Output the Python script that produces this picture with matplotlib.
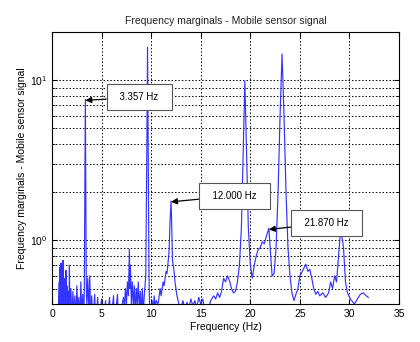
import matplotlib
matplotlib.use("Agg")
import matplotlib.pyplot as plt
from matplotlib.ticker import LogLocator, NullFormatter

plt.rcParams['font.family'] = ['Liberation Sans', 'DejaVu Sans']

# frequency axis (Hz) and marginal values
freq = [0.6, 0.7, 0.75, 0.8, 0.85, 0.9, 0.95, 1.0, 1.05, 1.1, 1.15, 1.2, 1.25, 1.3, 1.35,
        1.4, 1.45, 1.5, 1.55, 1.6, 1.7, 1.75, 1.8, 1.9, 2.0, 2.1, 2.2, 2.3, 2.4, 2.5, 2.6,
        2.7, 2.8, 2.9, 3.0, 3.1, 3.2,
        3.25, 3.3, 3.357, 3.4, 3.45, 3.5, 3.6, 3.7, 3.8, 3.9, 4.0, 4.1, 4.3, 4.4, 4.6, 4.7,
        5.0, 5.1, 5.4, 5.5, 5.8, 5.9, 6.2, 6.3, 6.6, 6.7, 7.2, 7.3, 7.4, 7.5, 7.6, 7.7, 7.8,
        7.85, 7.9, 8.0, 8.1, 8.2, 8.3, 8.4, 8.5, 8.6, 8.7, 8.8, 8.9, 9.0, 9.1, 9.2, 9.3,
        9.45, 9.55, 9.63, 9.7, 9.78, 9.85, 10.0, 10.1, 10.2, 10.3, 10.4, 10.5, 10.7, 10.9,
        11.0, 11.2, 11.3, 11.5, 11.6, 11.7, 11.8, 11.9, 12.0, 12.05, 12.15, 12.3, 12.4, 12.6,
        12.8, 13.0, 13.2, 13.4, 13.6, 13.8, 14.0, 14.2, 14.4, 14.6, 14.8, 15.0, 15.2, 15.4,
        15.7, 16.0, 16.3, 16.5, 16.7, 16.9, 17.1, 17.3, 17.5, 17.7, 17.9, 18.1, 18.3, 18.5,
        18.7, 18.9, 19.1, 19.3, 19.45, 19.6, 19.8, 20.0, 20.2, 20.4, 20.6, 20.8, 21.0, 21.2,
        21.4, 21.6, 21.87, 22.0, 22.2, 22.4, 22.6, 22.8, 23.0, 23.2, 23.4, 23.6, 23.8, 24.0,
        24.2, 24.4, 24.6, 24.8, 25.0, 25.3, 25.6, 25.8, 26.0, 26.2, 26.4, 26.6, 26.8, 27.0,
        27.3, 27.6, 27.9, 28.1, 28.3, 28.5, 28.7, 28.9, 29.05, 29.2, 29.4, 29.6, 29.8, 30.1,
        30.5, 30.8, 31.1, 31.4, 31.7, 31.9]
marg = [0.3, 0.55, 0.35, 0.68, 0.3, 0.72, 0.35, 0.62, 0.3, 0.75, 0.32, 0.58, 0.3, 0.55, 0.33,
        0.65, 0.3, 0.52, 0.35, 0.48, 0.3, 0.7, 0.32, 0.5, 0.3, 0.48, 0.34, 0.45, 0.3, 0.52, 0.36,
        0.44, 0.3, 0.55, 0.33, 0.46, 0.3,
        0.5, 2.0, 7.6, 2.5, 0.55, 0.4, 0.58, 0.35, 0.6, 0.3, 0.45, 0.3, 0.46, 0.3, 0.44, 0.3,
        0.43, 0.3, 0.42, 0.3, 0.44, 0.3, 0.45, 0.3, 0.46, 0.3, 0.44, 0.38, 0.5, 0.4, 0.55, 0.45, 0.88,
        0.5, 0.7, 0.4, 0.55, 0.38, 0.52, 0.35, 0.5, 0.4, 0.55, 0.36, 0.48, 0.33, 0.5, 0.35, 0.45,
        0.6, 3.0, 16.1, 3.5, 0.6, 0.35, 0.3, 0.42, 0.36, 0.45, 0.38, 0.42, 0.4, 0.5,
        0.45, 0.55, 0.52, 0.64, 0.62, 0.72, 0.85, 1.3, 1.76, 1.4, 0.75, 0.65, 0.55, 0.45,
        0.4, 0.38, 0.42, 0.37, 0.41, 0.38, 0.43, 0.39, 0.42, 0.38, 0.44, 0.40, 0.43, 0.37,
        0.36, 0.42, 0.45, 0.43, 0.47, 0.44, 0.48, 0.58, 0.55, 0.6, 0.56, 0.5, 0.47, 0.48,
        0.55, 0.7, 1.2, 4.0, 9.9, 4.0, 1.2, 0.7, 0.58, 0.7, 0.8, 0.88, 0.9, 0.98,
        0.95, 1.05, 1.19, 0.9, 0.6, 0.62, 0.9, 2.0, 6.0, 14.6, 6.0, 2.0, 0.9, 0.6,
        0.47, 0.42, 0.46, 0.5, 0.6, 0.65, 0.71, 0.64, 0.66, 0.58, 0.5, 0.46, 0.48, 0.45,
        0.47, 0.44, 0.47, 0.55, 0.5, 0.6, 0.55, 0.8, 1.05, 1.1, 0.9, 0.55, 0.47, 0.43,
        0.40, 0.43, 0.46, 0.47, 0.45, 0.44]

ann_text = ["3.357 Hz", "12.000 Hz", "21.870 Hz"]
ann_tip = [(3.357, 7.5), (12.0, 1.74), (21.87, 1.17)]
ann_box = [(8.8, 7.84), (18.4, 1.90), (27.7, 1.28)]

fig = plt.figure(figsize=(4.2, 3.42), dpi=100)
ax = fig.add_axes([0.124, 0.111, 0.826, 0.795])

ax.plot(freq, marg, color=(0.2, 0.2, 1.0), lw=0.85)
ax.set_yscale('log')
ax.set_xlim(0, 35)
ax.set_ylim(0.4, 20)
ax.set_xticks(range(0, 36, 5))
ax.yaxis.set_major_locator(LogLocator(base=10))
ax.yaxis.set_minor_locator(LogLocator(base=10, subs=range(2, 10)))
ax.yaxis.set_minor_formatter(NullFormatter())

ax.grid(True, which='major', color='black', linestyle=(0, (1.5, 2)), lw=0.7)
ax.grid(True, which='minor', axis='y', color='black', linestyle=(0, (1.5, 2)), lw=0.7)
ax.tick_params(which='both', direction='in', top=True, right=True, labelsize=7.5)

ax.set_title("Frequency marginals - Mobile sensor signal", fontsize=7.5, color='#222222')
ax.set_xlabel("Frequency (Hz)", fontsize=7.5, labelpad=2)
ax.set_ylabel("Frequency marginals - Mobile sensor signal", fontsize=7.5, labelpad=2)

for txt, tip, box in zip(ann_text, ann_tip, ann_box):
    ax.annotate("  " + txt + "  ", xy=tip, xytext=box, ha='center', va='center', fontsize=7,
                bbox=dict(boxstyle='square,pad=0.8', fc='white', ec='#555555', lw=0.8),
                arrowprops=dict(arrowstyle='-|>', color='black', lw=0.9, shrinkA=0, shrinkB=0,
                                mutation_scale=9))

fig.savefig("out.png", dpi=100)
